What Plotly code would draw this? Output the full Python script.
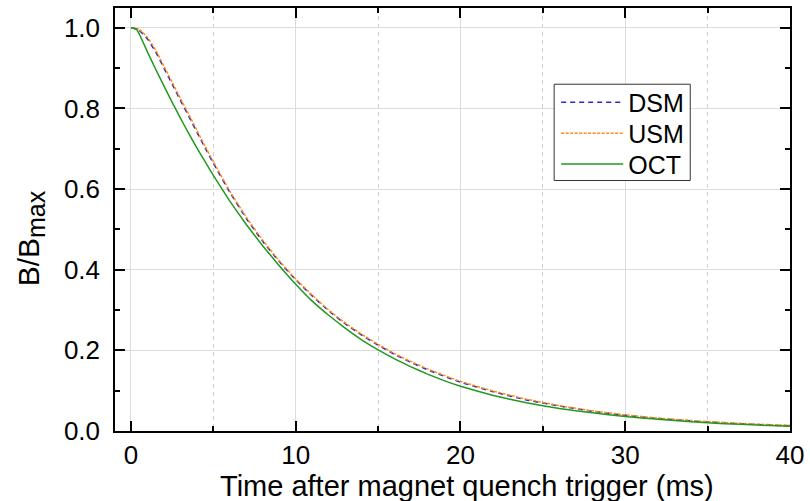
import plotly.graph_objects as go

t_dsm = [0, 0.5, 1, 1.5, 2, 2.5, 3, 3.5, 4, 4.5, 5, 6, 7, 8, 9, 10, 11, 12, 13, 14, 15,
         16, 17, 18, 19, 20, 22, 24, 26, 28, 30, 32, 34, 36, 38, 40]
v_dsm = [1.000, 0.994, 0.972, 0.940, 0.900, 0.860, 0.820, 0.781, 0.741, 0.702, 0.664,
         0.592, 0.527, 0.470, 0.420, 0.375, 0.335, 0.298, 0.266, 0.238, 0.213,
         0.190, 0.170, 0.152, 0.136, 0.121, 0.097, 0.077, 0.062, 0.049, 0.039,
         0.031, 0.025, 0.020, 0.016, 0.013]

t_usm = t_dsm
v_usm = [1.000, 0.996, 0.976, 0.945, 0.905, 0.865, 0.825, 0.786, 0.746, 0.706, 0.668,
         0.595, 0.530, 0.473, 0.422, 0.377, 0.337, 0.300, 0.268, 0.240, 0.215,
         0.192, 0.172, 0.154, 0.138, 0.123, 0.099, 0.079, 0.063, 0.050, 0.040,
         0.032, 0.026, 0.021, 0.017, 0.014]

t_oct = [0, 0.3, 0.5, 1, 1.5, 2, 2.5, 3, 3.5, 4, 4.5, 5, 6, 7, 8, 9, 10, 11, 12, 13, 14,
         15, 16, 17, 18, 19, 20, 22, 24, 26, 28, 30, 32, 34, 36, 38, 40]
v_oct = [1.000, 0.998, 0.985, 0.940, 0.897, 0.856, 0.815, 0.776, 0.738, 0.702, 0.668,
         0.634, 0.570, 0.512, 0.459, 0.410, 0.364, 0.322, 0.287, 0.255, 0.226,
         0.201, 0.179, 0.159, 0.141, 0.125, 0.111, 0.088, 0.070, 0.056, 0.045,
         0.036, 0.029, 0.023, 0.018, 0.015, 0.012]

names = ["DSM", "USM", "OCT"]
colors = ["#2a2acc", "#ff8c1a", "#1f9a1f"]
dashes = ["5px,4px", "3px,1.5px", "solid"]
legend_ids = ["legend", "legend2", "legend3"]
legend_y = [0.7764, 0.7035, 0.6306]

x_title = "Time after magnet quench trigger (ms)"
y_title = 'B/B<sub><span style="font-size:25px">max</span></sub>'

FONT = "Liberation Sans, Arial, sans-serif"

fig = go.Figure()
for t, v, n, c, d, lg in zip([t_dsm, t_usm, t_oct], [v_dsm, v_usm, v_oct], names, colors, dashes, legend_ids):
    fig.add_trace(go.Scatter(x=t, y=v, name=n, mode="lines", legend=lg,
                             line=dict(color=c, width=1.5, dash=d, shape="spline", smoothing=0.3)))

leg_common = dict(x=0.6536, xanchor="left", yanchor="middle",
                  bgcolor="rgba(0,0,0,0)", borderwidth=0,
                  font=dict(size=25, family=FONT, color="black"), itemwidth=62)
layout_legs = {}
for lg, ly in zip(legend_ids, legend_y):
    layout_legs[lg] = dict(leg_common, y=ly)

fig.update_layout(
    width=810, height=501,
    margin=dict(l=115, r=17, t=6, b=70),
    plot_bgcolor="white", paper_bgcolor="white",
    font=dict(family=FONT, color="black", size=26),
    showlegend=True,
    **layout_legs,
)

# legend frame
fig.add_shape(type="rect", xref="paper", yref="paper",
              x0=0.6506, x1=0.8522, y0=0.5922, y1=0.8198,
              fillcolor="white", line=dict(color="#333333", width=1), layer="above")

# axis titles
fig.add_annotation(text=x_title, xref="paper", yref="paper", x=0.522, y=-0.131,
                   xanchor="center", yanchor="middle", showarrow=False,
                   font=dict(size=29, family=FONT, color="black"))
fig.add_annotation(text=y_title, xref="paper", yref="paper", x=-0.125, y=0.4546,
                   xanchor="center", yanchor="middle", showarrow=False, textangle=-90,
                   font=dict(size=30, family=FONT, color="black"))

fig.update_xaxes(
    range=[-0.97, 40], tickvals=[0, 10, 20, 30, 40],
    showline=True, linecolor="black", linewidth=1.5, mirror="allticks",
    ticks="inside", ticklen=10, tickwidth=1.5, tickcolor="black",
    showgrid=True, gridcolor="#dcdcdc", gridwidth=1, zeroline=False,
    tickfont=dict(size=26),
    minor=dict(dtick=5, tick0=0, ticks="inside", ticklen=5, tickwidth=1.5, tickcolor="black",
               showgrid=True, gridcolor="#d0d0d0", griddash="4px,4px", gridwidth=1),
)
fig.update_yaxes(
    range=[0, 1.049], tickvals=[0, 0.2, 0.4, 0.6, 0.8, 1.0], tickformat=".1f",
    showline=True, linecolor="black", linewidth=1.5, mirror="allticks",
    ticks="inside", ticklen=10, tickwidth=1.5, tickcolor="black",
    showgrid=True, gridcolor="#dcdcdc", gridwidth=1, zeroline=False,
    tickfont=dict(size=26), ticklabelstandoff=8,
    minor=dict(dtick=0.1, tick0=0, ticks="inside", ticklen=5, tickwidth=1.5, tickcolor="black",
               showgrid=False),
)

fig.write_html("out.html")
